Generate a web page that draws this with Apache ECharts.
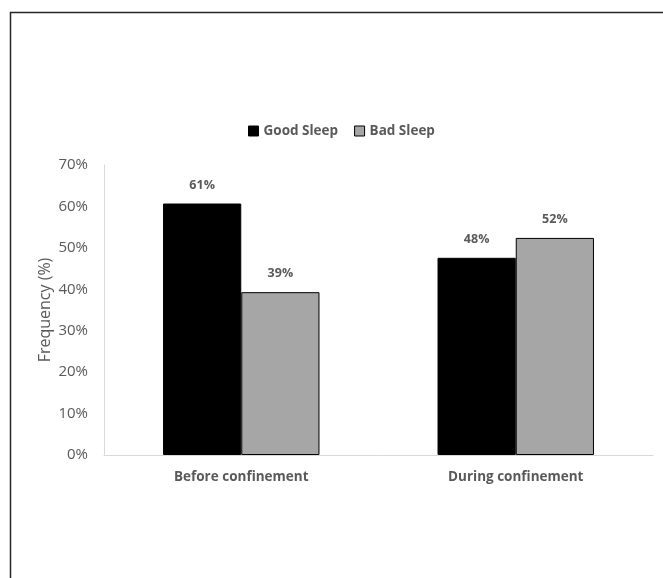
<!DOCTYPE html>
<html>
<head>
<meta charset="utf-8">
<script src="https://cdn.jsdelivr.net/npm/echarts@6/dist/echarts.min.js"></script>
<style>
html,body{margin:0;padding:0;background:#fff;}
#c{width:663px;height:578px;}
</style>
</head>
<body>
<div id="c"></div>
<script>
var categories = ['Before confinement', 'During confinement'];
var goodSleep = [60.7, 47.6];
var badSleep = [39.3, 52.4];
var yTicks = [0, 10, 20, 30, 40, 50, 60, 70];

var chart = echarts.init(document.getElementById('c'));
var txt = '#595959';
var font = 'Open Sans, Liberation Sans, sans-serif';
chart.setOption({
  animation: false,
  textStyle: {fontFamily: font},
  graphic: [{
    type: 'rect',
    shape: {x: 10.5, y: 12.5, width: 700, height: 700},
    style: {fill: 'none', stroke: '#262626', lineWidth: 1.5},
    silent: true
  }],
  legend: {
    top: 119,
    left: 243,
    itemWidth: 10,
    itemHeight: 10,
    itemGap: 16,
    textStyle: {color: txt, fontSize: 13.5, fontWeight: 'bold', fontFamily: font},
    data: [
      {name: 'Good Sleep', icon: 'rect', itemStyle: {color: '#000', borderColor: '#000', borderWidth: 1}},
      {name: 'Bad Sleep', icon: 'rect', itemStyle: {color: '#a6a6a6', borderColor: '#000', borderWidth: 1}}
    ]
  },
  grid: {left: 104, right: 10, top: 165, bottom: 123},
  xAxis: {
    type: 'category',
    data: categories,
    axisLine: {lineStyle: {color: '#d9d9d9'}},
    axisTick: {show: false},
    axisLabel: {color: txt, fontSize: 13.5, fontWeight: 'bold', margin: 15, fontFamily: font}
  },
  yAxis: {
    type: 'value',
    min: yTicks[0],
    max: yTicks[yTicks.length - 1],
    interval: 10,
    name: 'Frequency (%)',
    nameLocation: 'middle',
    nameGap: 51,
    nameRotate: 90,
    nameMoveOverlap: false,
    nameTextStyle: {color: txt, fontSize: 16, fontFamily: font},
    axisLine: {show: true, lineStyle: {color: '#d9d9d9'}},
    axisTick: {show: false},
    splitLine: {show: false},
    axisLabel: {color: txt, fontSize: 15, margin: 16, formatter: function (v) { return v + '%'; }}
  },
  series: [
    {
      name: 'Good Sleep',
      type: 'bar',
      data: goodSleep,
      barGap: '0%',
      barCategoryGap: '43%',
      itemStyle: {color: '#000', borderColor: '#000', borderWidth: 1},
      label: {show: true, position: 'top', distance: 12, color: txt, fontSize: 12.5, fontWeight: 'bold',
        formatter: function (p) { return Math.round(p.value) + '%'; }}
    },
    {
      name: 'Bad Sleep',
      type: 'bar',
      data: badSleep,
      barGap: '0%',
      barCategoryGap: '43%',
      itemStyle: {color: '#a6a6a6', borderColor: '#000', borderWidth: 1},
      label: {show: true, position: 'top', distance: 12, color: txt, fontSize: 12.5, fontWeight: 'bold',
        formatter: function (p) { return Math.round(p.value) + '%'; }}
    }
  ]
});
</script>
</body>
</html>
